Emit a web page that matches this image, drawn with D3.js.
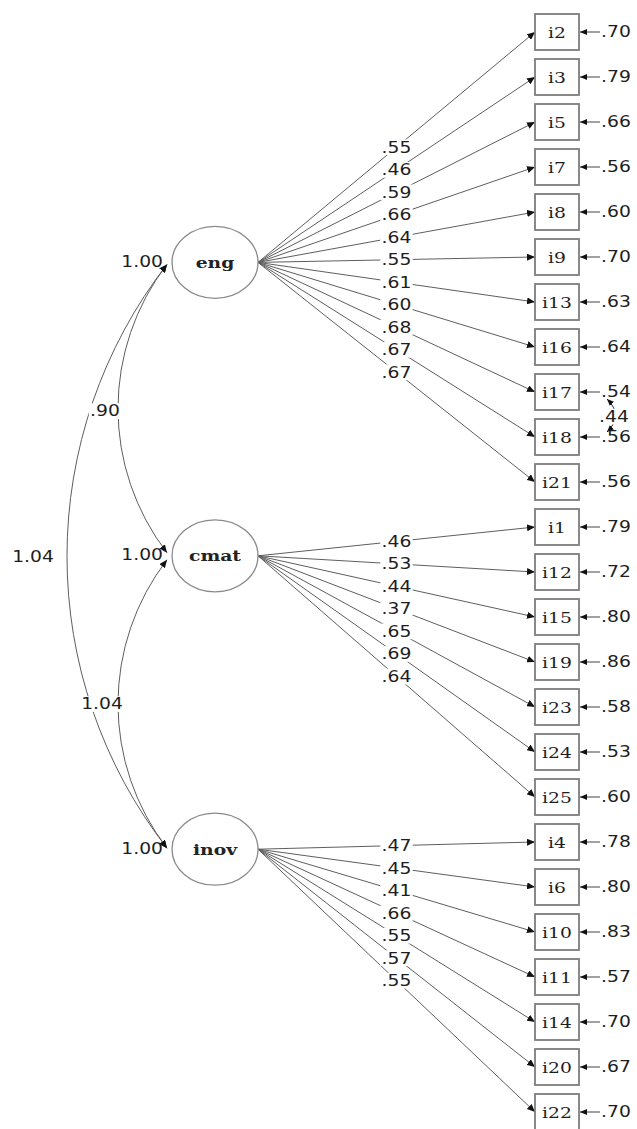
<!DOCTYPE html>
<html>
<head>
<meta charset="utf-8">
<script src="https://cdn.jsdelivr.net/npm/d3@7"></script>
<style>
  body { margin: 0; background: #fff; }
</style>
</head>
<body>
<div id="chart"></div>
<script>
// --- data ---
const latents = ['eng', 'cmat', 'inov'];
const latentVariances = [1.00, 1.00, 1.00];

const engItems = ['i2', 'i3', 'i5', 'i7', 'i8', 'i9', 'i13', 'i16', 'i17', 'i18', 'i21'];
const engLoadings = [.55, .46, .59, .66, .64, .55, .61, .60, .68, .67, .67];
const engErrors = [.70, .79, .66, .56, .60, .70, .63, .64, .54, .56, .56];

const cmatItems = ['i1', 'i12', 'i15', 'i19', 'i23', 'i24', 'i25'];
const cmatLoadings = [.46, .53, .44, .37, .65, .69, .64];
const cmatErrors = [.79, .72, .80, .86, .58, .53, .60];

const inovItems = ['i4', 'i6', 'i10', 'i11', 'i14', 'i20', 'i22'];
const inovLoadings = [.47, .45, .41, .66, .55, .57, .55];
const inovErrors = [.78, .80, .83, .57, .70, .67, .70];

const covFrom = ['eng', 'cmat', 'eng'];
const covTo = ['cmat', 'inov', 'inov'];
const covValues = [.90, 1.04, 1.04];

const errCovPair = ['i17', 'i18'];
const errCovValue = .44;

// --- layout ---
const width = 637, height = 1129;
const latentSlot = { eng: 5.12, cmat: 11.64, inov: 18.16 }; // position in item-row units
const latentX = 215, rx = 43, ry = 36;
const boxX = 535, boxW = 44, boxH = 36;
const stretch = 1.25; // glyphs in the original are wide
const numFont = '"DejaVu Sans", Verdana, sans-serif';
const nameFont = '"DejaVu Serif", "Liberation Serif", serif';

const groups = [
  { name: 'eng', items: engItems, loadings: engLoadings, errors: engErrors },
  { name: 'cmat', items: cmatItems, loadings: cmatLoadings, errors: cmatErrors },
  { name: 'inov', items: inovItems, loadings: inovLoadings, errors: inovErrors }
];
const allItems = groups.flatMap(g => g.items);

const y = d3.scaleLinear().domain([0, allItems.length - 1]).range([32, 1112]);
const itemY = name => y(allItems.indexOf(name));
const latY = name => y(latentSlot[name]);

const fmt = v => {
  const s = d3.format('.2f')(v);
  return v < 1 ? s.replace(/^0/, '') : s;
};

const svg = d3.select('#chart').append('svg')
  .attr('width', width).attr('height', height)
  .style('font-family', numFont);

const defs = svg.append('defs');
const marker = (id, len, half) => {
  defs.append('marker')
    .attr('id', id)
    .attr('viewBox', `0 ${-half} ${len} ${half * 2}`)
    .attr('refX', len).attr('refY', 0)
    .attr('markerWidth', len).attr('markerHeight', half * 2)
    .attr('markerUnits', 'userSpaceOnUse')
    .attr('orient', 'auto-start-reverse')
    .append('path')
    .attr('d', `M0,${-half}L${len},0L0,${half}Z`)
    .attr('fill', '#111');
};
marker('arr', 8, 3.5);
marker('arrSmall', 7, 3);

// text helper: stretched label, optional white backing that breaks lines
function label(parent, x, yy, txt, opts = {}) {
  const g = parent.append('g')
    .attr('transform', `translate(${x},${yy}) scale(${stretch},1)`);
  const t = g.append('text')
    .attr('text-anchor', opts.anchor || 'middle')
    .attr('dy', '0.36em')
    .attr('font-size', opts.size || 15)
    .attr('font-family', opts.font || numFont)
    .attr('font-weight', opts.weight || 'normal')
    .attr('fill', opts.fill || '#1e1e1e')
    .text(txt);
  if (opts.bg) {
    const b = t.node().getBBox();
    g.insert('rect', 'text')
      .attr('x', b.x - 1).attr('y', b.y + 1)
      .attr('width', b.width + 2).attr('height', b.height - 2)
      .attr('fill', '#fff');
  }
  return g;
}

const lineG = svg.append('g');
const labelG = svg.append('g');

// loading paths
groups.forEach(grp => {
  const x0 = latentX + rx, y0 = latY(grp.name);
  grp.items.forEach((it, i) => {
    const y1 = itemY(it);
    lineG.append('line')
      .attr('x1', x0).attr('y1', y0)
      .attr('x2', boxX).attr('y2', y1)
      .attr('stroke', '#5e5e5e').attr('stroke-width', 1)
      .attr('marker-end', 'url(#arr)');
    label(labelG, (x0 + boxX) / 2, (y0 + y1) / 2, fmt(grp.loadings[i]), { bg: true });
  });
});

// error terms
groups.forEach(grp => {
  grp.items.forEach((it, i) => {
    const yy = itemY(it);
    lineG.append('line')
      .attr('x1', 600).attr('y1', yy)
      .attr('x2', boxX + boxW + 1).attr('y2', yy)
      .attr('stroke', '#444').attr('stroke-width', 1)
      .attr('marker-end', 'url(#arrSmall)');
    label(labelG, 601, yy, fmt(grp.errors[i]), { anchor: 'start' });
  });
});

// error covariance i17 <-> i18
{
  const ya = itemY(errCovPair[0]) + 7, yb = itemY(errCovPair[1]) - 5;
  lineG.append('path')
    .attr('d', `M607,${ya} Q624,${(ya + yb) / 2} 607,${yb}`)
    .attr('fill', 'none').attr('stroke', '#222').attr('stroke-width', 1)
    .attr('marker-start', 'url(#arrSmall)')
    .attr('marker-end', 'url(#arrSmall)');
  label(labelG, 614, (ya + yb) / 2 + 1, fmt(errCovValue), { bg: true });
}

// latent covariances (circular arcs on the left)
const covBulge = [49, 49, 100];
const covLabelAt = [[105, 411], [102, 704], [33, 557]];
covValues.forEach((v, i) => {
  const xa = latentX - rx - 5;
  const ya = latY(covFrom[i]) + (covFrom[i] === 'cmat' ? 4 : 2);
  const yb = latY(covTo[i]) - (covTo[i] === 'cmat' ? 3 : 1);
  const half = (yb - ya) / 2, s = covBulge[i];
  const r = (half * half + s * s) / (2 * s);
  lineG.append('path')
    .attr('d', `M${xa},${ya} A${r},${r} 0 0 0 ${xa},${yb}`)
    .attr('fill', 'none').attr('stroke', '#5e5e5e').attr('stroke-width', 1)
    .attr('marker-start', 'url(#arr)')
    .attr('marker-end', 'url(#arr)');
  label(labelG, covLabelAt[i][0], covLabelAt[i][1], fmt(v), { bg: i < 2 });
});

// latent ellipses
const latG = svg.append('g');
latents.forEach((name, i) => {
  const cy = latY(name);
  latG.append('ellipse')
    .attr('cx', latentX).attr('cy', cy)
    .attr('rx', rx).attr('ry', ry)
    .attr('fill', '#fff').attr('stroke', '#8a8a8a').attr('stroke-width', 1.3);
  label(latG, latentX, cy, name, { font: nameFont, weight: 'bold', size: 15, fill: '#222' });
  label(latG, 163, cy - 1, fmt(latentVariances[i]), { anchor: 'end' });
});

// observed boxes
const boxG = svg.append('g');
allItems.forEach(it => {
  const yy = itemY(it);
  boxG.append('rect')
    .attr('x', boxX).attr('y', yy - boxH / 2)
    .attr('width', boxW).attr('height', boxH)
    .attr('fill', '#fff').attr('stroke', '#7d7d7d').attr('stroke-width', 1.8);
  label(boxG, boxX + boxW / 2, yy + 1, it, { font: nameFont, size: 15, fill: '#1e1e1e' });
});
</script>
</body>
</html>
